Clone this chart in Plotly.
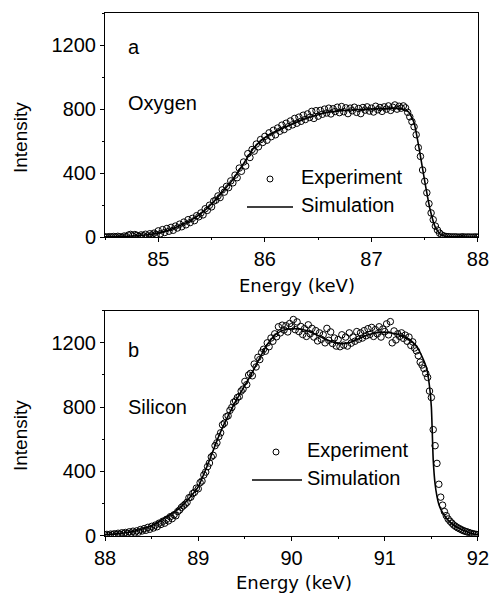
import numpy as np
import plotly.graph_objects as go

# ---------------- Oxygen (panel a) ----------------
sim_e_o = [84.5, 84.6, 84.7, 84.8, 84.9, 85.0, 85.1, 85.2, 85.3, 85.4,
           85.5, 85.6, 85.7, 85.8, 85.9, 86.0, 86.1, 86.2, 86.3, 86.4,
           86.5, 86.6, 86.7, 86.8, 86.9, 87.0, 87.1, 87.2, 87.25, 87.3,
           87.35, 87.4, 87.45, 87.5, 87.55, 87.6, 87.65, 87.7, 87.8, 88.0]
sim_i_o = [3, 4, 6, 10, 16, 26, 45, 72, 104, 148,
           208, 282, 360, 460, 560, 622, 660, 690, 718, 744,
           765, 780, 789, 795, 798, 801, 803, 805, 804, 798,
           782, 715, 545, 350, 175, 62, 16, 5, 3, 2]

exp_start_o = 84.5
exp_step_o = 0.02
exp_i_o = [3, 1, 4, 2, 5, 2, 6, 3, 1, 8,
           4, 14, 18, 9, 17, 12, 6, 15, 10, 19,
           8, 22, 14, 26, 18, 40, 22, 48, 30, 55,
           38, 62, 44, 70, 58, 82, 66, 95, 78, 110,
           92, 118, 104, 135, 128, 152, 140, 178, 168, 200,
           190, 226, 232, 258, 248, 296, 282, 318, 310, 352,
           340, 388, 372, 432, 412, 470, 445, 522, 498, 548,
           538, 582, 565, 610, 592, 630, 606, 652, 628, 668,
           640, 682, 662, 700, 672, 712, 690, 726, 702, 742,
           712, 750, 724, 762, 735, 770, 748, 786, 742, 790,
           756, 792, 768, 800, 776, 806, 770, 802, 785, 812,
           778, 816, 784, 808, 772, 806, 790, 812, 780, 804,
           772, 810, 794, 814, 788, 806, 782, 818, 796, 810,
           786, 814, 800, 820, 792, 812, 826, 800, 818, 806,
           820, 808, 780, 752, 722, 690, 640, 560, 505, 420,
           350, 278, 210, 152, 110, 70, 45, 26, 14, 8,
           5, 4, 3, 2, 3, 2, 1, 2, 3, 1,
           2, 2, 1, 2, 2, 1]

# ---------------- Silicon (panel b) ----------------
sim_e_si = [88.0, 88.1, 88.2, 88.3, 88.4, 88.5, 88.6, 88.7, 88.8, 88.85,
            88.9, 88.95, 89.0, 89.05, 89.1, 89.15, 89.2, 89.25, 89.3, 89.35,
            89.4, 89.45, 89.5, 89.55, 89.6, 89.65, 89.7, 89.75, 89.8, 89.85,
            89.9, 89.95, 90.0, 90.05, 90.1, 90.15, 90.2, 90.25, 90.3, 90.35,
            90.4, 90.45, 90.5, 90.55, 90.6, 90.65, 90.7, 90.75, 90.8, 90.85,
            90.9, 90.95, 91.0, 91.05, 91.1, 91.15, 91.2, 91.25, 91.3, 91.35,
            91.4, 91.45, 91.48, 91.5, 91.52, 91.54, 91.56, 91.58, 91.6, 91.63,
            91.66, 91.7, 91.75, 91.8, 91.85, 91.9, 91.95, 92.0]
sim_i_si = [5, 10, 17, 26, 41, 62, 97, 132, 172, 200,
            232, 266, 304, 370, 440, 515, 590, 660, 722, 780,
            835, 885, 935, 985, 1040, 1095, 1150, 1198, 1235, 1260,
            1276, 1284, 1288, 1288, 1285, 1278, 1268, 1255, 1241, 1227,
            1214, 1204, 1197, 1195, 1199, 1207, 1219, 1233, 1246, 1255,
            1261, 1264, 1265, 1263, 1258, 1250, 1239, 1224, 1205, 1170,
            1115, 1040, 930, 800, 470, 320, 245, 195, 165, 135,
            110, 85, 62, 46, 32, 20, 11, 5]

exp_start_si = 88.0
exp_step_si = 0.02
exp_i_si = [4, 8, 3, 10, 6, 12, 7, 15, 9, 18,
            12, 20, 14, 24, 16, 28, 18, 30, 22, 38,
            30, 44, 34, 52, 40, 58, 48, 66, 56, 78,
            70, 90, 78, 102, 92, 118, 106, 130, 124, 150,
            160, 176, 186, 196, 208, 236, 240, 262, 270, 296,
            292, 330, 340, 378, 396, 430, 452, 490, 500, 560,
            578, 616, 640, 690, 700, 740, 746, 780, 798, 830,
            838, 860, 866, 900, 912, 960, 940, 1000, 1010, 995,
            1068, 1050, 1110, 1096, 1140, 1160, 1148, 1200, 1176, 1230,
            1210, 1256, 1238, 1300, 1262, 1310, 1280, 1306, 1268, 1320,
            1300, 1345, 1282, 1330, 1270, 1302, 1252, 1288, 1240, 1312,
            1256, 1290, 1236, 1276, 1212, 1262, 1222, 1250, 1200, 1290,
            1216, 1268, 1196, 1230, 1180, 1220, 1176, 1250, 1186, 1236,
            1180, 1262, 1198, 1236, 1210, 1270, 1222, 1262, 1230, 1276,
            1244, 1288, 1252, 1296, 1240, 1282, 1256, 1300, 1236, 1286,
            1270, 1318, 1250, 1332, 1200, 1274, 1218, 1256, 1240, 1262,
            1228, 1248, 1210, 1236, 1184, 1206, 1168, 1150, 1120, 1080,
            1062, 1040, 1010, 985, 900, 860, 660, 560, 450, 320,
            240, 190, 150, 125, 104, 90, 78, 66, 58, 50,
            44, 38, 32, 28, 24, 20, 16, 13, 10, 8,
            5]

W, H = 489, 593
FONT = "Liberation Sans, Arial, sans-serif"
TITLE_FONT = "DejaVu Sans, sans-serif"


def channels(start, step, values):
    return np.round(start + step * np.arange(len(values)), 3)


fig = go.Figure()

panels = [
    ("x", "y", sim_e_o, sim_i_o, channels(exp_start_o, exp_step_o, exp_i_o), exp_i_o),
    ("x2", "y2", sim_e_si, sim_i_si, channels(exp_start_si, exp_step_si, exp_i_si), exp_i_si),
]
for xa, ya, se, si, ee, ei in panels:
    fig.add_trace(go.Scatter(
        x=ee, y=ei, xaxis=xa, yaxis=ya, mode="markers", showlegend=False,
        marker=dict(symbol="circle-open", size=6.5, color="black",
                    line=dict(width=1, color="black")),
    ))
    fig.add_trace(go.Scatter(
        x=se, y=si, xaxis=xa, yaxis=ya, mode="lines", showlegend=False,
        line=dict(color="black", width=1.6, shape="spline", smoothing=0.5),
    ))


def px_x(p):
    return p / W


def px_y(p):
    return 1 - p / H


axis_common = dict(
    showgrid=False, zeroline=False, showline=True, linecolor="black",
    linewidth=1, mirror=True, ticks="outside", ticklen=4, tickwidth=1,
    tickcolor="black", automargin=False, ticklabeloverflow="allow",
    tickfont=dict(family=FONT, size=20, color="black"),
)
minor_x = dict(dtick=0.5, ticks="outside", ticklen=2, tickcolor="black")
minor_y = dict(dtick=200, ticks="outside", ticklen=2, tickcolor="black")

fig.update_layout(
    width=W, height=H,
    margin=dict(l=0, r=0, t=0, b=0),
    paper_bgcolor="white", plot_bgcolor="white",
    xaxis=dict(domain=[px_x(105), px_x(478)], range=[84.4999, 88.0001],
               tick0=85, dtick=1, anchor="y", minor=minor_x, **axis_common),
    yaxis=dict(domain=[px_y(237.3), px_y(13)], range=[-0.01, 1400],
               dtick=400, anchor="x", minor=minor_y, **axis_common),
    xaxis2=dict(domain=[px_x(105), px_x(478)], range=[87.9999, 92.0001],
                tick0=88, dtick=1, anchor="y2", minor=minor_x, **axis_common),
    yaxis2=dict(domain=[px_y(535.7), px_y(310.7)], range=[-0.01, 1400],
                dtick=400, anchor="x2", minor=minor_y, **axis_common),
)

annotations = []


def label(text, x, y, size=20, family=FONT, xanchor="left", angle=0):
    annotations.append(dict(
        text=text, x=px_x(x), y=px_y(y), xref="paper", yref="paper",
        xanchor=xanchor, yanchor="middle", showarrow=False, textangle=angle,
        font=dict(family=family, size=size, color="black"),
    ))


# panel labels and element names
label("a", 126, 47)
label("Oxygen", 126, 103)
label("b", 126, 350)
label("Silicon", 126, 407)

# axis titles
label("Intensity", 20, 138, size=19, xanchor="center", angle=-90)
label("Intensity", 20, 436, size=19, xanchor="center", angle=-90)
label("Energy (keV)", 297, 285, size=18, family=TITLE_FONT, xanchor="center")
label("Energy (keV)", 294, 582, size=18, family=TITLE_FONT, xanchor="center")

# legend text
label("Experiment", 299, 177)
label("Simulation", 299, 205)
label("Experiment", 305, 450)
label("Simulation", 305, 478)

shapes = []


def key_circle(cx, cy, r=3):
    shapes.append(dict(type="circle", xref="paper", yref="paper",
                       x0=px_x(cx - r), x1=px_x(cx + r),
                       y0=px_y(cy + r), y1=px_y(cy - r),
                       line=dict(color="black", width=1)))


def key_line(x0, x1, y):
    shapes.append(dict(type="line", xref="paper", yref="paper",
                       x0=px_x(x0), x1=px_x(x1), y0=px_y(y), y1=px_y(y),
                       line=dict(color="black", width=1.4)))


key_circle(270, 179)
key_line(247, 293, 207)
key_circle(276, 452)
key_line(252, 302, 480)

fig.update_layout(annotations=annotations, shapes=shapes)

fig.write_html("out.html")
